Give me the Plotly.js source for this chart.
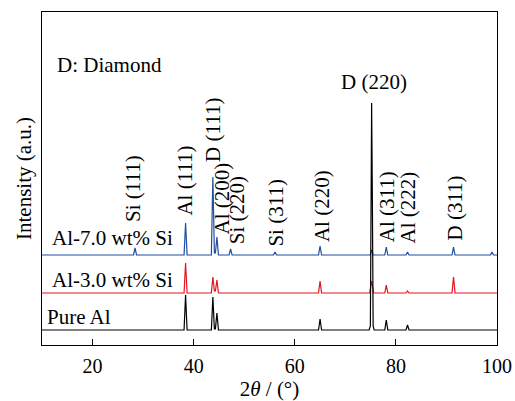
<!DOCTYPE html>
<html>
<head>
<meta charset="utf-8">
<script src="https://cdn.plot.ly/plotly-3.0.1.min.js"></script>
<style>html,body{margin:0;padding:0;background:#fff;}#chart{width:515px;height:401px;}</style>
</head>
<body>
<div id="chart"></div>
<script>
// XRD patterns: 2theta (deg) and intensity above each pattern's own baseline (a.u.)
const pureAlX = [10, 20, 30, 38.1, 38.4, 38.7, 43.5, 43.8, 44.1, 44.3, 44.6, 44.9, 50, 60, 64.7, 65.0, 65.3, 74.7, 74.95, 75.1, 75.2, 75.35, 75.5, 75.7, 77.8, 78.1, 78.4, 82.0, 82.3, 82.6, 90, 100];
const pureAlY = [0, 0, 0, 0, 35, 0, 0, 33, 1, 1, 17, 0, 0, 0, 0, 11, 0, 0, 4, 133, 227, 130, 4, 0, 0, 10, 0, 0, 5, 0, 0, 0];

const al3X = [10, 20, 30, 38.1, 38.4, 38.7, 43.5, 43.8, 44.1, 44.3, 44.6, 44.9, 50, 60, 64.7, 65.0, 65.3, 74.8, 75.2, 75.6, 77.8, 78.1, 78.4, 82.0, 82.3, 82.6, 91.1, 91.4, 91.7, 100];
const al3Y = [0, 0, 0, 0, 30, 0, 0, 16, 2, 2, 13, 0, 0, 0, 0, 12, 0, 0, 12, 0, 0, 8, 0, 0, 2, 0, 0, 16, 0, 0];

const al7X = [10, 20, 28.1, 28.4, 28.7, 38.1, 38.4, 38.7, 43.5, 43.8, 44.1, 44.3, 44.6, 44.9, 47.0, 47.3, 47.6, 55.8, 56.1, 56.4, 64.7, 65.0, 65.3, 74.9, 75.2, 75.5, 77.8, 78.1, 78.4, 82.0, 82.3, 82.6, 91.1, 91.4, 91.7, 98.7, 99.0, 99.3, 100];
const al7Y = [0, 0, 0, 7, 0, 0, 32, 0, 0, 78, 2, 2, 18, 0, 0, 6, 0, 0, 3, 0, 0, 9, 0, 0, 5, 0, 0, 8, 0, 0, 3, 0, 0, 8, 0, 0, 3, 0, 0];

const seriesNames = ['Pure Al', 'Al-3.0 wt% Si', 'Al-7.0 wt% Si'];
const seriesOffsets = [15, 52, 90];
const seriesColors = ['#000000', '#e3141f', '#1f4fa0'];

const peakLabels = ['Si (111)', 'Al (111)', 'D (111)', 'Al (200)', 'Si (220)', 'Si (311)', 'Al (220)', 'Al (311)', 'Al (222)', 'D (311)'];
const peakLabelX = [27.9, 38.2, 43.8, 45.7, 48.6, 56.1, 65.4, 78.2, 82.3, 91.5];
const peakLabelY = [122, 128, 182, 110, 100, 97, 102, 102, 100, 103];

const xTicks = [20, 40, 60, 80, 100];

const FONT = '"Liberation Serif", "Times New Roman", Times, serif';

const shifted = (ys, off) => ys.map(v => v + off);
const traces = [
  {x: al7X, y: shifted(al7Y, seriesOffsets[2]), name: seriesNames[2], line: {color: seriesColors[2], width: 1.2}},
  {x: al3X, y: shifted(al3Y, seriesOffsets[1]), name: seriesNames[1], line: {color: seriesColors[1], width: 1.2}},
  {x: pureAlX, y: shifted(pureAlY, seriesOffsets[0]), name: seriesNames[0], line: {color: seriesColors[0], width: 1.2}}
].map(t => Object.assign({type: 'scatter', mode: 'lines', hoverinfo: 'skip'}, t));

const annotations = [];
peakLabels.forEach((t, i) => {
  annotations.push({x: peakLabelX[i], y: peakLabelY[i], xref: 'x', yref: 'y', text: t, textangle: -90,
    showarrow: false, xanchor: 'center', yanchor: 'bottom', borderpad: 0, font: {family: FONT, size: 21, color: '#000'}});
});
annotations.push({x: 75.6, y: 263, xref: 'x', yref: 'y', text: 'D (220)', showarrow: false, borderpad: 0,
  xanchor: 'center', yanchor: 'middle', font: {family: FONT, size: 21, color: '#000'}});
annotations.push({x: 12.7, y: 280, xref: 'x', yref: 'y', text: 'D: Diamond', showarrow: false, borderpad: 0,
  xanchor: 'left', yanchor: 'middle', font: {family: FONT, size: 21, color: '#000'}});
const labelY = [28, 65, 107];
const labelX = [10.7, 11.7, 11.7];
seriesNames.forEach((n, i) => {
  annotations.push({x: labelX[i], y: labelY[i], xref: 'x', yref: 'y', text: n, showarrow: false, borderpad: 0,
    xanchor: 'left', yanchor: 'middle', font: {family: FONT, size: 21, color: '#000'}});
});

const layout = {
  width: 515, height: 401,
  margin: {l: 42, r: 18, t: 12, b: 56},
  paper_bgcolor: '#fff', plot_bgcolor: '#fff',
  showlegend: false,
  font: {family: FONT, size: 20, color: '#000'},
  xaxis: {
    range: [10, 100], tickvals: xTicks, ticks: 'inside', ticklen: 6, tickwidth: 1, tickcolor: '#000',
    ticklabelstandoff: 3,
    showline: true, mirror: true, linecolor: '#000', linewidth: 1, showgrid: false, zeroline: false,
    tickfont: {family: FONT, size: 20, color: '#000'},
    title: {text: '2<i>θ</i> / (°)', font: {family: FONT, size: 21, color: '#000'}, standoff: 1}
  },
  yaxis: {
    range: [0, 333], showticklabels: false, ticks: '',
    showline: true, mirror: true, linecolor: '#000', linewidth: 1, showgrid: false, zeroline: false,
    title: {text: 'Intensity (a.u.)', font: {family: FONT, size: 21, color: '#000'}, standoff: 3}
  },
  annotations: annotations
};

Plotly.newPlot('chart', traces, layout, {displayModeBar: false, staticPlot: true});
</script>
</body>
</html>
